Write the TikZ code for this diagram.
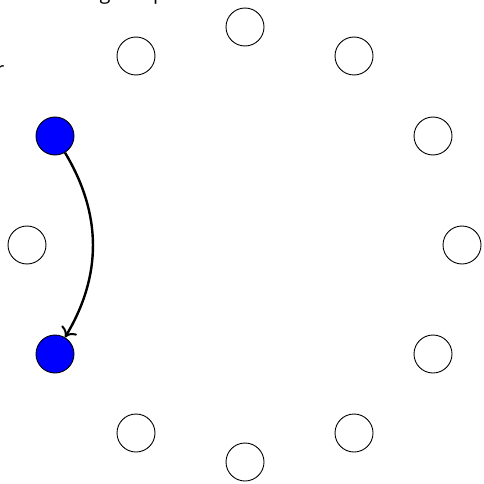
\documentclass[tikz,border=0pt]{standalone}
\usepackage{fontspec}
\setmainfont{Open Sans}
\usetikzlibrary{arrows.meta}
\begin{document}
\begin{tikzpicture}[x=1pt,y=-1pt,
  vert/.style={circle,draw=black,line width=0.9pt,minimum size=38pt,inner sep=0pt},
  chosen/.style={vert,fill=blue},
  arc/.style={line width=2.4pt,-{To[length=9pt,width=18pt,line width=2pt]}},
  frag/.style={inner sep=0pt,font=\fontsize{20pt}{24pt}\selectfont}]
\useasboundingbox (0,0) rectangle (484,484);
\node[vert] (n0) at (245,27) {};
\node[vert] (n1) at (354,56) {};
\node[vert] (n2) at (433,136) {};
\node[vert] (n3) at (462,245) {};
\node[vert] (n4) at (433,354) {};
\node[vert] (n5) at (354,433) {};
\node[vert] (n6) at (245,462) {};
\node[vert] (n7) at (136,433) {};
\node[chosen] (n8) at (55,354) {};
\node[vert] (n9) at (27,245) {};
\node[chosen] (n10) at (55,136) {};
\node[vert] (n11) at (136,56) {};
\draw[arc] (n10) to[bend left=31] (n8);
\node[frag,anchor=base] (tg) at (105,-0.5) {g};
\node[frag,anchor=base west] (tp) at (153,-0.5) {p};
\node[frag,anchor=base east] (tr) at (4.5,77) {r};
\end{tikzpicture}
\end{document}
